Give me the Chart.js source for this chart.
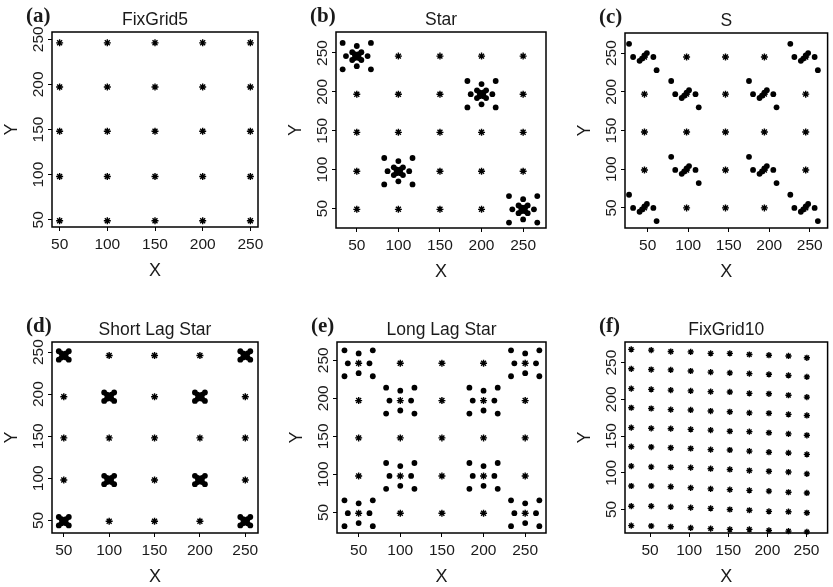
<!DOCTYPE html>
<html>
<head>
<meta charset="utf-8">
<script src="https://cdn.jsdelivr.net/npm/chart.js@4.4.0/dist/chart.umd.min.js"></script>
<style>
  html, body { margin: 0; padding: 0; background: #fff; overflow: hidden; }
  #page { position: relative; width: 833px; height: 587px; overflow: hidden; }
  #page canvas { position: absolute; }
</style>
</head>
<body>
<div id="page"></div>
<script>
// tick labels (same on every axis)
const tickValues = [50, 100, 150, 200, 250]

// regular 5x5 grid used by a, b, d, e
const gridX = [50, 100, 150, 200, 250]
const gridY = [49, 98, 148, 197, 246]
// grid of panel c sits a little to the left
const sGridX = [46, 98, 146, 194, 245]
const sGridY = [50, 99, 148, 197, 245]

// offsets of the dots around a cluster centre
const longDX = [-17, 0, 17, -13, 13, -17, 0, 17]
const longDY = [17, 13, 17, 0, 0, -17, -13, -17]
const shortDX = [-5.5, 5.5, -5.5, 5.5, -2.5, 2.5, -2.5, 2.5]
const shortDY = [5, 5, -5, -5, 2.5, 2.5, -2.5, -2.5]
const sDX = [-19, -14, -6, -3, 0, 3, 11, 15]
const sDY = [17, 0, -5, -2, 2, 5, 0, -17]

// cluster centres
const starCentres = [[50, 246], [100, 98], [200, 197], [250, 49]]
const lagCentres = [[50, 49], [50, 246], [100, 98], [100, 197], [200, 98], [200, 197], [250, 49], [250, 246]]
const sCentres = [[46, 245], [245, 245], [98, 197], [194, 197], [98, 99], [194, 99], [46, 50], [245, 50]]

// FixGrid10 (slightly skewed grid)
const grid10X = [26, 51.5, 76.5, 102, 127.5, 152, 177, 202, 227, 250.5]
const grid10Rows = [
  [268, 267, 265, 264.5, 262.5, 262.5, 261, 260, 259, 256.5],
  [241.5, 240.5, 240, 238.5, 237, 236, 235, 234, 232.5, 230.5],
  [214.5, 213.5, 212.5, 211.5, 210.5, 210, 208, 207.5, 205.5, 203],
  [188.5, 187.5, 186, 185.5, 184, 183, 181.5, 181, 179.5, 178],
  [161.5, 160.5, 160, 159, 158, 156.5, 156, 154.5, 153, 151],
  [135.5, 135, 134, 133, 131.5, 131, 129.5, 128, 127, 125],
  [109, 108, 107.5, 107, 105.5, 104.5, 103, 102, 101, 98.5],
  [82, 82, 81, 79.5, 78, 77, 76, 75, 73.5, 72.5],
  [54.5, 54.5, 53.5, 52.5, 51.5, 50, 49, 47.5, 47, 45.5],
  [28, 27.5, 26.5, 25, 24, 23, 23, 21.5, 20.5, 19.5]
]

const gridPoints = (xs, ys) => {
  let pts = []
  for (let y of ys) for (let x of xs) pts.push({x: x, y: y})
  return pts
}

const clusterPoints = (centres, dx, dy) => {
  let pts = []
  for (let c of centres) {
    for (let i = 0; i < dx.length; i++) pts.push({x: c[0] + dx[i], y: c[1] + dy[i]})
  }
  return pts
}

let grid10 = []
for (let r = 0; r < grid10Rows.length; r++) {
  for (let c = 0; c < grid10X.length; c++) grid10.push({x: grid10X[c], y: grid10Rows[r][c]})
}

const panels = [
  {label: "(a)", title: "FixGrid5", stars: gridPoints(gridX, gridY), dots: [],
   xr: [42, 258], yr: [42, 258], canvas: [0, 0, 278, 292], box: [52, 32, 258, 227]},
  {label: "(b)", title: "Star", stars: gridPoints(gridX, gridY),
   dots: clusterPoints(starCentres, longDX, longDY).concat(clusterPoints(starCentres, shortDX, shortDY)),
   xr: [25, 277.5], yr: [25, 277], canvas: [278, 0, 277, 292], box: [336, 32, 546, 228]},
  {label: "(c)", title: "S", stars: gridPoints(sGridX, sGridY), dots: clusterPoints(sCentres, sDX, sDY),
   xr: [22, 272], yr: [24, 276], canvas: [555, 0, 278, 292], box: [625, 33, 832, 228]},
  {label: "(d)", title: "Short Lag Star", stars: gridPoints(gridX, gridY), dots: clusterPoints(lagCentres, shortDX, shortDY),
   xr: [37, 264], yr: [35, 262], canvas: [0, 292, 278, 300], box: [52, 342, 258, 533]},
  {label: "(e)", title: "Long Lag Star", stars: gridPoints(gridX, gridY), dots: clusterPoints(lagCentres, longDX, longDY),
   xr: [24, 275], yr: [23, 274], canvas: [278, 292, 277, 300], box: [337, 342, 546, 533]},
  {label: "(f)", title: "FixGrid10", stars: grid10, dots: [],
   xr: [18, 277], yr: [18, 278], canvas: [555, 292, 278, 300], box: [625, 342, 832, 533]}
]

const FONT = "Liberation Sans, Arial, sans-serif"
const INK = "#1a1a1a"
const Y_AXIS_W = 51
const X_AXIS_H = 57

// frame, rotated y tick labels, panel title and letter
const framePlugin = {
  id: "frame",
  afterDraw(chart, args, opts) {
    const ctx = chart.ctx
    const a = chart.chartArea
    ctx.save()
    ctx.strokeStyle = "#000"
    ctx.lineWidth = 1.5
    ctx.strokeRect(a.left, a.top, a.right - a.left, a.bottom - a.top)

    const ys = chart.scales.y
    ctx.fillStyle = INK
    ctx.font = "15.5px " + FONT
    ctx.textAlign = "center"
    ctx.textBaseline = "middle"
    ys.ticks.forEach(t => {
      ctx.save()
      ctx.translate(a.left - 13.5, ys.getPixelForValue(t.value))
      ctx.rotate(-Math.PI / 2)
      ctx.fillText(String(t.value), 0, 0)
      ctx.restore()
    })

    ctx.font = "17.5px " + FONT
    ctx.fillText(opts.title, (a.left + a.right) / 2, a.top - 12)
    ctx.font = "bold 21px 'Liberation Serif', 'Times New Roman', serif"
    ctx.textAlign = "left"
    ctx.fillText(opts.label, a.left - 26, a.top - 15)
    ctx.restore()
  }
}

const page = document.getElementById("page")

panels.forEach(p => {
  let canva = document.createElement("canvas")
  let [cl, ct, cw, ch] = p.canvas
  let [bl, bt, br, bb] = p.box
  canva.width = cw
  canva.height = ch
  canva.style.left = cl + "px"
  canva.style.top = ct + "px"
  canva.style.width = cw + "px"
  canva.style.height = ch + "px"
  page.appendChild(canva)

  new Chart(canva.getContext("2d"), {
    type: "scatter",
    data: {
      datasets: [
        {
          label: "dots",
          data: p.dots,
          pointStyle: "circle",
          pointRadius: 2.9,
          pointBackgroundColor: "#000",
          pointBorderWidth: 0,
          clip: false
        },
        {
          label: "grid",
          data: p.stars,
          pointStyle: "star",
          pointRadius: p.label == "(f)" ? 3.1 : 3.5,
          pointBorderColor: "#000",
          pointBorderWidth: 1.4,
          clip: false
        }
      ]
    },
    options: {
      responsive: false,
      animation: false,
      events: [],
      layout: {
        padding: {
          left: bl - cl - Y_AXIS_W,
          right: cl + cw - br,
          top: bt - ct,
          bottom: ct + ch - bb - X_AXIS_H
        }
      },
      plugins: {
        legend: {display: false},
        tooltip: {enabled: false},
        frame: {title: p.title, label: p.label}
      },
      scales: {
        x: {
          type: "linear",
          min: p.xr[0],
          max: p.xr[1],
          afterBuildTicks: s => { s.ticks = tickValues.map(v => ({value: v})) },
          afterFit: s => { s.height = X_AXIS_H },
          border: {display: false},
          grid: {drawOnChartArea: false, drawTicks: true, tickLength: 4, color: "#000"},
          ticks: {color: INK, padding: 4, maxRotation: 0, font: {family: FONT, size: 15.5}},
          title: {display: true, text: "X", color: INK, padding: {top: 0, bottom: 2}, font: {family: FONT, size: 18}}
        },
        y: {
          type: "linear",
          min: p.yr[0],
          max: p.yr[1],
          afterBuildTicks: s => { s.ticks = tickValues.map(v => ({value: v})) },
          afterFit: s => { s.width = Y_AXIS_W },
          border: {display: false},
          grid: {drawOnChartArea: false, drawTicks: true, tickLength: 4, color: "#000"},
          ticks: {display: false},
          title: {display: true, text: "Y", color: INK, padding: {top: 0, bottom: 0}, font: {family: FONT, size: 18}}
        }
      }
    },
    plugins: [framePlugin]
  })
})
</script>
</body>
</html>
